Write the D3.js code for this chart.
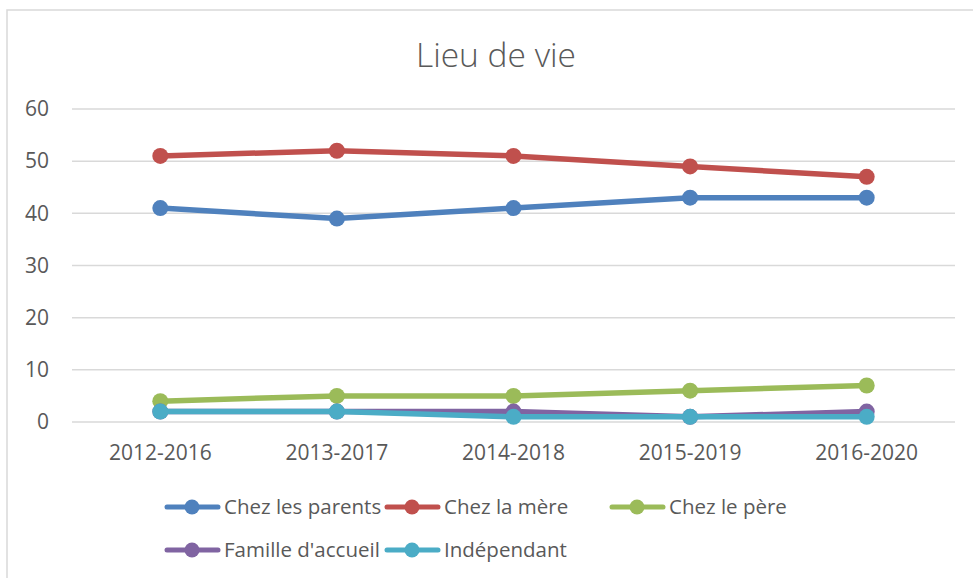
<!DOCTYPE html>
<html><head><meta charset="utf-8">
<script src="https://cdn.jsdelivr.net/npm/d3@7"></script>
<style>body{margin:0;background:#fff}svg{display:block}</style>
</head><body>
<svg id="chart" width="973" height="578"></svg>
<script>
const categories = ["2012-2016","2013-2017","2014-2018","2015-2019","2016-2020"];
const seriesNames = ["Chez les parents","Chez la mère","Chez le père","Famille d'accueil","Indépendant"];
const parents = [41,39,41,43,43];
const mere = [51,52,51,49,47];
const pere = [4,5,5,6,7];
const famille = [2,2,2,1,2];
const independant = [2,2,1,1,1];
const yTicks = [0,10,20,30,40,50,60];
const colors = ["#4F81BD","#C0504D","#9BBB59","#8064A2","#4BACC6"];
const seriesValues = [parents, mere, pere, famille, independant];

const svg = d3.select("#chart");
const font = "'Open Sans', sans-serif";
// chart border
svg.append("rect").attr("x",7).attr("y",10).attr("width",1000).attr("height",600)
  .attr("fill","#fff").attr("stroke","#d9d9d9").attr("stroke-width",1.5);

svg.append("text").attr("x",496).attr("y",67).attr("text-anchor","middle")
  .attr("font-family",font).attr("font-size",33.5).attr("font-weight",300).attr("fill","#595959").text("Lieu de vie");

const x = d3.scaleBand().domain(categories).range([72,955]);
const y = d3.scaleLinear().domain([0,60]).range([422,109]);

const g = svg.append("g");
yTicks.forEach(t=>{
  g.append("line").attr("x1",72).attr("x2",955).attr("y1",y(t)).attr("y2",y(t))
   .attr("stroke","#d9d9d9").attr("stroke-width",1.5);
});
const yAxis = svg.append("g").attr("transform","translate(72,0)")
  .call(d3.axisLeft(y).tickValues(yTicks).tickSize(0).tickPadding(23));
yAxis.select(".domain").remove();
yAxis.selectAll("text").attr("font-family",font).attr("font-size",21).attr("fill","#595959");

const xAxis = svg.append("g").attr("transform","translate(0,422)")
  .call(d3.axisBottom(x).tickSize(0).tickPadding(23));
xAxis.select(".domain").remove();
xAxis.selectAll("text").attr("font-family",font).attr("font-size",21).attr("fill","#595959");

const line = d3.line().x((d,i)=>x(categories[i])+x.bandwidth()/2).y(d=>y(d));
seriesValues.forEach((vals,si)=>{
  svg.append("path").attr("d",line(vals)).attr("fill","none").attr("stroke",colors[si])
    .attr("stroke-width",5.5).attr("stroke-linejoin","round").attr("stroke-linecap","round");
  svg.selectAll(null).data(vals).enter().append("circle")
    .attr("cx",(d,i)=>x(categories[i])+x.bandwidth()/2).attr("cy",d=>y(d)).attr("r",8)
    .attr("fill",colors[si]);
});

// legend
const legX = [165,385,610], legY = [507,550];
seriesNames.forEach((n,i)=>{
  const lx = legX[i%3], ly = legY[Math.floor(i/3)];
  const lg = svg.append("g").attr("transform",`translate(${lx},${ly})`);
  lg.append("line").attr("x1",2).attr("x2",53).attr("y1",0).attr("y2",0)
    .attr("stroke",colors[i]).attr("stroke-width",5).attr("stroke-linecap","round");
  lg.append("circle").attr("cx",27).attr("cy",0).attr("r",7.5).attr("fill",colors[i]);
  lg.append("text").attr("x",59).attr("y",7).attr("font-family",font).attr("font-size",20.5)
    .attr("fill","#595959").text(n);
});
</script>
</body></html>
